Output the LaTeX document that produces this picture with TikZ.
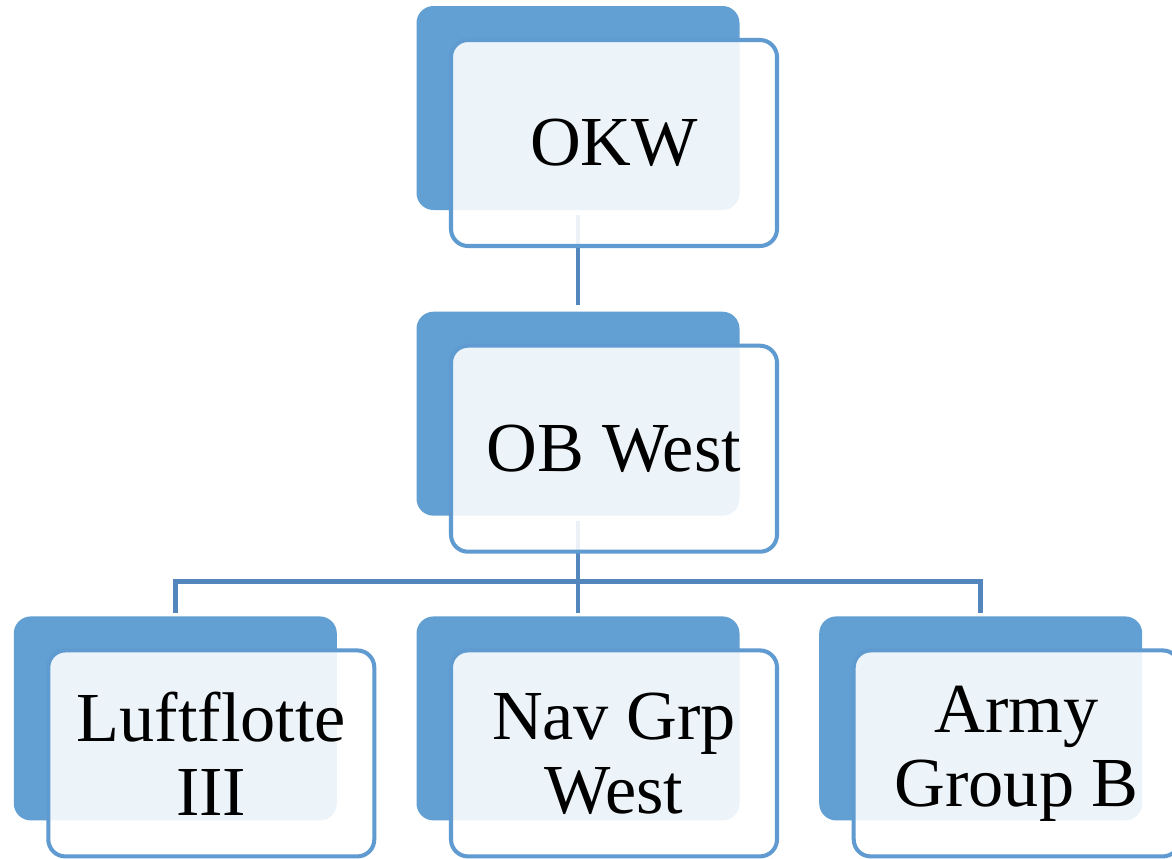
\documentclass[tikz,border=0pt]{standalone}
\usepackage{fontspec}
\setmainfont{Liberation Serif}
\usetikzlibrary{positioning,calc}
\definecolor{backblue}{RGB}{98,159,210}
\definecolor{edgeblue}{RGB}{95,155,208}
\definecolor{linkblue}{RGB}{82,134,188}
\tikzset{
  backbox/.style={rectangle,rounded corners=0.34cm,fill=backblue,minimum width=6.46cm,minimum height=4.08cm,inner sep=0pt},
  frontbox/.style={rectangle,rounded corners=0.34cm,draw=edgeblue,line width=2.3pt,fill=white,fill opacity=0.885,text opacity=1,minimum width=6.52cm,minimum height=4.12cm,inner sep=0pt,align=center,font=\fontsize{40}{42}\selectfont},
  link/.style={draw=linkblue,line width=2.8pt}
}
\begin{document}
\begin{tikzpicture}
\clip (0,0) rectangle (23.44,-17.16);
\fill[white] (0,0) rectangle (23.44,-17.16);
\node[backbox] (okw) at (11.56,-2.16) {};
\node[backbox,below=2.02cm of okw] (obw) {};
\node[backbox,below=2cm of obw] (nav) {};
\node[backbox,left=1.58cm of nav] (luft) {};
\node[backbox,right=1.58cm of nav] (army) {};
\coordinate (bus) at ($(obw.south)+(0,-1.3)$);
\draw[link,shorten <=0.1cm,shorten >=0.12cm] (okw) -- (obw);
\draw[link,shorten <=0.1cm,shorten >=0.06cm] (obw) -- (nav);
\draw[link,shorten <=0.06cm,shorten >=0.06cm] (luft.north) |- (bus) -| (army.north);
\node[frontbox] (okwf) at ($(okw)+(0.72,-0.7)$) {OKW};
\node[frontbox] (obwf) at ($(obw)+(0.72,-0.7)$) {OB West};
\node[frontbox] (luftf) at ($(luft)+(0.72,-0.7)$) {Luftflotte\\III};
\node[frontbox] (navf) at ($(nav)+(0.72,-0.7)$) {Nav Grp\\West};
\node[frontbox] (armyf) at ($(army)+(0.72,-0.7)$) {Army\\Group B};
\end{tikzpicture}
\end{document}
